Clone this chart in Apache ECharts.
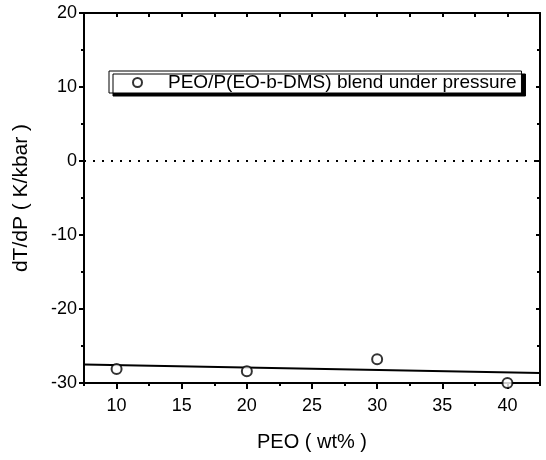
<!DOCTYPE html>
<html><head><meta charset="utf-8">
<script src="https://cdn.jsdelivr.net/npm/echarts@6/dist/echarts.min.js"></script>
<style>html,body{margin:0;padding:0;background:#fff}#c{width:546px;height:460px}</style>
</head><body><div id="c"></div>
<script>
var peo = [10, 20, 30, 40];
var dTdP = [-28.1, -28.4, -26.8, -30.0];
var fitX = [7.5, 42.5];
var fitY = [-27.5, -28.65];
var xMajorTicks = [10, 15, 20, 25, 30, 35, 40];
var xMinorTicks = [7.5, 12.5, 17.5, 22.5, 27.5, 32.5, 37.5, 42.5];
var xAllTicks = [7.5, 10, 12.5, 15, 17.5, 20, 22.5, 25, 27.5, 30, 32.5, 35, 37.5, 40, 42.5];
var yTicks = [-30, -20, -10, 0, 10, 20];
var seriesName = 'PEO/P(EO-b-DMS) blend under pressure';

var X_MIN = 7.5, X_MAX = 42.5;
var font = 'Liberation Sans, Arial, sans-serif';
var chart = echarts.init(document.getElementById('c'));
var axLine = {show: true, onZero: false, lineStyle: {color: '#000', width: 2}};
chart.setOption({
  animation: false,
  backgroundColor: '#fff',
  grid: {left: 84, right: 6, top: 13, bottom: 77, containLabel: false},
  legend: {
    data: [{name: seriesName, icon: 'emptyCircle'}],
    left: 109, top: 71,
    padding: [2, 5, 1, 23],
    itemWidth: 9, itemHeight: 9,
    borderColor: '#000', borderWidth: 1,
    backgroundColor: '#fff',
    shadowColor: '#000', shadowBlur: 0, shadowOffsetX: 4, shadowOffsetY: 3,
    itemStyle: {borderWidth: 1},
    textStyle: {fontFamily: font, fontSize: 19, color: '#000', padding: [0, 0, 0, 21]}
  },
  xAxis: [
    {type: 'value', min: X_MIN, max: X_MAX, position: 'bottom',
     name: 'PEO ( wt% )', nameLocation: 'middle', nameGap: 49,
     nameTextStyle: {fontFamily: font, fontSize: 20, color: '#000'},
     axisLine: axLine, splitLine: {show: false},
     axisTick: {show: true, customValues: xMajorTicks, length: 6, lineStyle: {color: '#000', width: 2}},
     axisLabel: {customValues: xMajorTicks, fontFamily: font, fontSize: 18, color: '#000', margin: 14}},
    {type: 'value', min: X_MIN, max: X_MAX, position: 'bottom', offset: 0,
     axisLine: {show: false, onZero: false}, splitLine: {show: false},
     axisTick: {show: true, customValues: xMinorTicks, length: 3, lineStyle: {color: '#000', width: 2}},
     axisLabel: {show: false}},
    {type: 'value', min: X_MIN, max: X_MAX, position: 'top',
     axisLine: axLine, splitLine: {show: false},
     axisTick: {show: true, inside: true, customValues: xAllTicks, length: 4, lineStyle: {color: '#000', width: 2}},
     axisLabel: {show: false}}
  ],
  yAxis: [
    {type: 'value', min: -30, max: 20, interval: 10, position: 'left',
     name: 'dT/dP ( K/kbar )', nameLocation: 'middle', nameGap: 52, nameRotate: 90,
     nameTextStyle: {fontFamily: font, fontSize: 21, color: '#000'},
     axisLine: axLine, splitLine: {show: false},
     axisTick: {show: true, length: 5, lineStyle: {color: '#000', width: 2}},
     minorTick: {show: true, splitNumber: 2, length: 3, lineStyle: {color: '#000', width: 2}},
     minorSplitLine: {show: false},
     axisLabel: {customValues: yTicks, fontFamily: font, fontSize: 18, color: '#000', margin: 7}},
    {type: 'value', min: -30, max: 20, interval: 10, position: 'right',
     axisLine: axLine, splitLine: {show: false},
     axisTick: {show: true, inside: true, length: 4, lineStyle: {color: '#000', width: 2}},
     minorTick: {show: true, splitNumber: 2, length: 3, lineStyle: {color: '#000', width: 2}},
     axisLabel: {show: false}}
  ],
  series: [
    {name: seriesName, type: 'scatter', xAxisIndex: 0, yAxisIndex: 0,
     data: peo.map(function (x, i) { return [x, dTdP[i]]; }),
     symbol: 'emptyCircle', symbolSize: 10,
     itemStyle: {color: '#000', borderColor: '#000', borderWidth: 1},
     z: 3},
    {name: 'fit', type: 'line', xAxisIndex: 0, yAxisIndex: 0,
     data: fitX.map(function (x, i) { return [x, fitY[i]]; }),
     symbol: 'none', lineStyle: {color: '#000', width: 2}, z: 2,
     markLine: {silent: true, symbol: 'none', label: {show: false},
       lineStyle: {color: '#000', type: [2, 7], width: 2},
       data: [{yAxis: 0}]}}
  ]
});
</script></body></html>
